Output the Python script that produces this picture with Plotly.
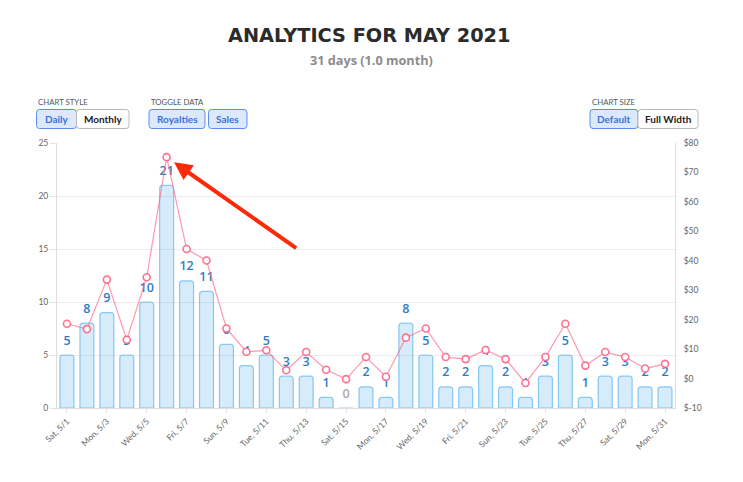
import plotly.graph_objects as go

# ---------------- data ----------------
days = ["Sat, 5/1", "Sun, 5/2", "Mon, 5/3", "Tue, 5/4", "Wed, 5/5", "Thu, 5/6", "Fri, 5/7",
        "Sat, 5/8", "Sun, 5/9", "Mon, 5/10", "Tue, 5/11", "Wed, 5/12", "Thu, 5/13", "Fri, 5/14",
        "Sat, 5/15", "Sun, 5/16", "Mon, 5/17", "Tue, 5/18", "Wed, 5/19", "Thu, 5/20", "Fri, 5/21",
        "Sat, 5/22", "Sun, 5/23", "Mon, 5/24", "Tue, 5/25", "Wed, 5/26", "Thu, 5/27", "Fri, 5/28",
        "Sat, 5/29", "Sun, 5/30", "Mon, 5/31"]
sales = [5, 8, 9, 5, 10, 21, 12, 11, 6, 4, 5, 3, 3, 1, 0, 2, 1, 8, 5, 2, 2, 4, 2, 1, 3, 5, 1, 3, 3, 2, 2]
royalties = [18.6, 16.8, 33.6, 13.2, 34.4, 75.2, 44.0, 40.1, 17.0, 9.1, 9.6, 2.8, 9.0, 3.0, -0.2,
             7.3, 0.6, 13.9, 17.0, 7.3, 6.6, 9.7, 6.6, -1.5, 7.3, 18.6, 4.4, 9.0, 7.3, 3.4, 5.0]
left_ticks = [0, 5, 10, 15, 20, 25]
right_ticks = [-10, 0, 10, 20, 30, 40, 50, 60, 70, 80]
right_labels = ["$-10", "$0", "$10", "$20", "$30", "$40", "$50", "$60", "$70", "$80"]
x_tick_days = days[::2]

# ---------------- layout geometry ----------------
W, H = 743, 482
ML, MR, MT, MB = 57, 68, 143, 74
PW, PH = W - ML - MR, H - MT - MB


def px(x):
    return (x - ML) / PW


def py(y):
    return (H - MB - y) / PH


BLUE_TXT = "#2f7cc4"
label_colors = [BLUE_TXT if v > 0 else "#aaaaaa" for v in sales]

fig = go.Figure()

fig.add_trace(go.Bar(
    x=days, y=sales, yaxis="y",
    marker=dict(color="rgba(54,162,235,0.2)",
                line=dict(color="rgba(54,162,235,0.55)", width=1.2),
                cornerradius=3),
    hoverinfo="skip",
))

fig.add_trace(go.Scatter(
    x=days, y=royalties, yaxis="y2", mode="lines+markers",
    line=dict(color="rgba(255,99,132,0.65)", width=1.2),
    marker=dict(size=7, color="white",
                line=dict(color="rgba(255,99,132,0.9)", width=1.6)),
    cliponaxis=False,
))

fig.add_trace(go.Scatter(
    x=days, y=sales, yaxis="y", mode="markers+text",
    text=[str(v) for v in sales], textposition="top center",
    textfont=dict(family="Open Sans", size=12.5, weight=600, color=label_colors),
    marker=dict(size=10, color="rgba(0,0,0,0)"),
    cliponaxis=False, hoverinfo="skip",
))

fig.update_layout(
    width=W, height=H,
    margin=dict(l=ML, r=MR, t=MT, b=MB, pad=0),
    paper_bgcolor="white", plot_bgcolor="white",
    showlegend=False, bargap=0.3,
    font=dict(family="Lato, 'Open Sans', sans-serif", color="#666"),
    xaxis=dict(type="category", tickmode="array", tickvals=x_tick_days, ticktext=x_tick_days,
               tickangle=-45, tickfont=dict(size=8.5, color="#666"),
               showline=True, linecolor="#dddddd", linewidth=1,
               ticks="outside", ticklen=4, tickcolor="#e3e3e3",
               showgrid=False, range=[-0.5, len(days) - 0.5]),
    yaxis=dict(range=[0, 25], tickvals=left_ticks, tickfont=dict(size=8.5, color="#666"),
               showgrid=True, gridcolor="#ececec", gridwidth=1,
               showline=True, linecolor="#dddddd", linewidth=1,
               ticks="outside", ticklen=6, tickcolor="#e3e3e3", zeroline=False),
    yaxis2=dict(range=[-10, 80], overlaying="y", side="right",
                tickmode="array", tickvals=right_ticks, ticktext=right_labels,
                tickfont=dict(size=8.5, color="#666"), showgrid=False, zeroline=False,
                showline=True, linecolor="#dddddd", linewidth=1,
                ticks="outside", ticklen=6, tickcolor="rgba(0,0,0,0)"),
)

annotations = []
shapes = []

# title + subtitle
annotations.append(dict(text="<b>ANALYTICS FOR MAY 2021</b>", x=px(368.5), y=py(35), xref="paper", yref="paper",
                        showarrow=False, xanchor="center", yanchor="middle",
                        font=dict(family="DejaVu Sans", size=19.3, color="#2b2b2b")))
annotations.append(dict(text="<b>31 days (1.0 month)</b>", x=px(371.5), y=py(60), xref="paper", yref="paper",
                        showarrow=False, xanchor="center", yanchor="middle",
                        font=dict(family="Open Sans", size=12.7, color="#8c8c8c")))


def rrect(x0, y0, x1, y1, r=3):
    X0, X1 = px(x0), px(x1)
    Y0, Y1 = py(y0), py(y1)
    rx, ry = r / PW, r / PH
    return (f"M{X0+rx},{Y0} L{X1-rx},{Y0} Q{X1},{Y0} {X1},{Y0-ry} L{X1},{Y1+ry} Q{X1},{Y1} {X1-rx},{Y1} "
            f"L{X0+rx},{Y1} Q{X0},{Y1} {X0},{Y1+ry} L{X0},{Y0-ry} Q{X0},{Y0} {X0+rx},{Y0} Z")


def button(text, x0, x1, selected, y0=109.5, y1=128.5):
    fill = "#dce9fc" if selected else "white"
    border = "#5b8def" if selected else "#b8b8b8"
    tcol = "#3b6fdc" if selected else "#222222"
    shapes.append(dict(type="path", path=rrect(x0, y0, x1, y1), xref="paper", yref="paper",
                       fillcolor=fill, line=dict(color=border, width=1), layer="above"))
    annotations.append(dict(text=f"<b>{text}</b>", x=px((x0 + x1) / 2), y=py((y0 + y1) / 2),
                            xref="paper", yref="paper", showarrow=False,
                            xanchor="center", yanchor="middle",
                            font=dict(family="Lato", size=10, color=tcol)))


def group_label(text, x0):
    annotations.append(dict(text=text, x=px(x0), y=py(102), xref="paper", yref="paper",
                            showarrow=False, xanchor="left", yanchor="middle",
                            font=dict(family="Lato", size=7.8, color="#555")))


group_label("CHART STYLE", 36)
button("Daily", 36.5, 76.5, True)
button("Monthly", 76.5, 129, False)
group_label("TOGGLE DATA", 148.5)
button("Royalties", 149, 205, True)
button("Sales", 208.5, 247, True)
group_label("CHART SIZE", 589.5)
button("Default", 590, 638, True)
button("Full Width", 638, 698, False)

# red arrow pointing at the peak royalty day
peak = royalties.index(max(royalties))
annotations.append(dict(x=days[peak], y=royalties[peak], xref="x", yref="y2",
                        ax=131, ay=92, showarrow=True, arrowhead=2, arrowsize=0.9,
                        arrowwidth=4, arrowcolor="#fd2a0a", standoff=9, text=""))

fig.update_layout(annotations=annotations, shapes=shapes)

fig.write_html("out.html")
